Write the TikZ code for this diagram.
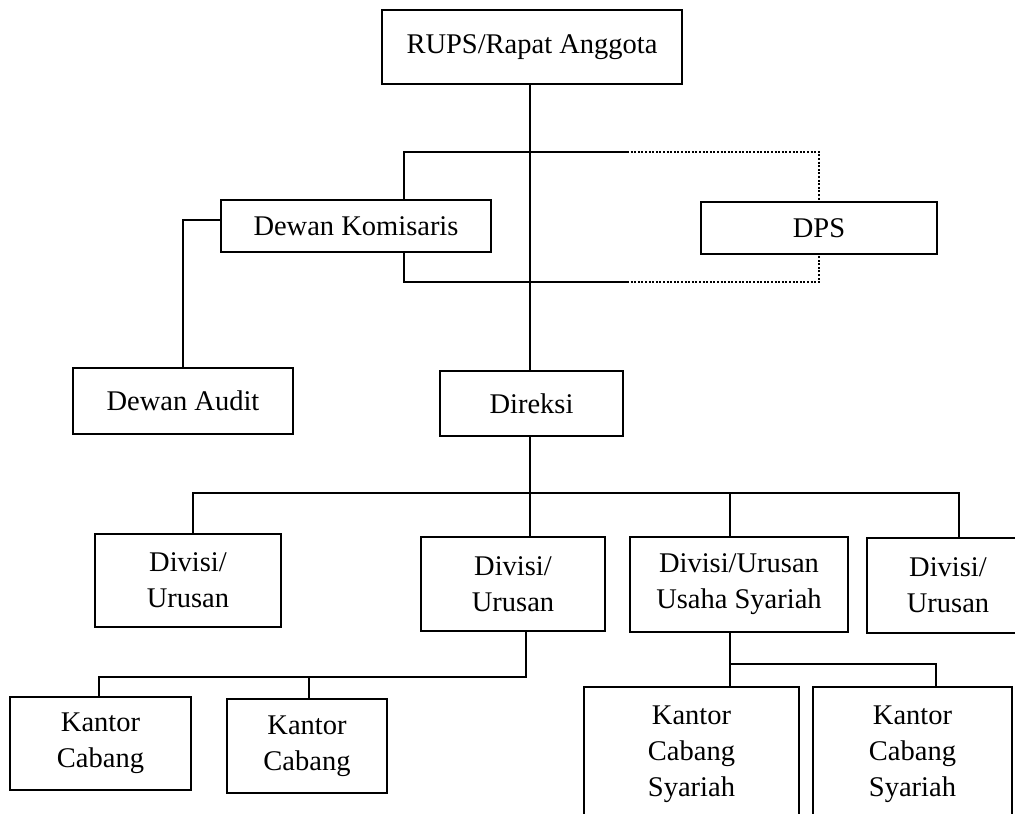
\documentclass[tikz,border=0pt]{standalone}
\usepackage{fontspec}
\setmainfont{Liberation Serif}
\begin{document}
\begin{tikzpicture}[x=1pt,y=-1pt,
  orgbox/.style={draw, line width=1.8pt, inner sep=0pt, outer sep=0pt, align=center,
    font=\fontsize{28.5}{36}\selectfont},
  conn/.style={line width=1.8pt},
  dotconn/.style={line width=2pt, dash pattern=on 2pt off 1.6pt}]
\useasboundingbox (0,0) rectangle (1015,814);
\fill[white] (0,0) rectangle (1015,814);
\clip (0,0) rectangle (1015,814);

\node[orgbox, minimum width=300pt, minimum height=74pt] (rups) at (532,47) {RUPS/Rapat Anggota};
\node[orgbox, minimum width=270pt, minimum height=52pt] (dk) at (356,226) {Dewan Komisaris};
\node[orgbox, minimum width=236pt, minimum height=52pt] (dps) at (819,228) {DPS};
\node[orgbox, minimum width=220pt, minimum height=66pt] (audit) at (183,401) {Dewan Audit};
\node[orgbox, minimum width=183pt, minimum height=65pt] (direksi) at (531.5,403.5) {Direksi};
\node[orgbox, minimum width=186pt, minimum height=93pt] (div1) at (188,580.5) {Divisi/\\Urusan};
\node[orgbox, minimum width=184pt, minimum height=94pt] (div2) at (513,584) {Divisi/\\Urusan};
\node[orgbox, minimum width=218pt, minimum height=95pt] (div3) at (739,584.5) {Divisi/Urusan\\Usaha Syariah};
\node[orgbox, minimum width=162pt, minimum height=95pt] (div4) at (948,585.5) {Divisi/\\Urusan};
\node[orgbox, minimum width=181pt, minimum height=93pt] (k1) at (100.5,743.5) {Kantor\\Cabang};
\node[orgbox, minimum width=160pt, minimum height=94pt] (k2) at (307,746) {Kantor\\Cabang};
\node[orgbox, minimum width=215pt, minimum height=134pt] (ks1) at (691.5,754) {Kantor\\Cabang\\Syariah};
\node[orgbox, minimum width=199pt, minimum height=134pt] (ks2) at (912.5,754) {Kantor\\Cabang\\Syariah};

% trunk
\coordinate (tk) at (530,0);
\draw[conn] (rups.south -| tk) -- (direksi.north -| tk);
\draw[conn] (direksi.south -| tk) -- (div2.north -| tk);

% bracket around Dewan Komisaris / DPS
\coordinate (tl) at (404,152);
\coordinate (tm) at (627,152);
\coordinate (tr) at (819,152);
\coordinate (bl) at (404,282);
\coordinate (bm) at (627,282);
\coordinate (br) at (819,282);
\draw[conn] (dk.north -| tl) -- (tl) -- (tm);
\draw[dotconn] (tm) -- (tr) -- (dps.north -| tr);
\draw[conn] (dk.south -| bl) -- (bl) -- (bm);
\draw[dotconn] (bm) -- (br) -- (dps.south -| br);

% Dewan Komisaris to Dewan Audit
\coordinate (ka) at (183,220);
\draw[conn] (dk.west |- ka) -- (ka) -- (audit.north -| ka);

% Direksi to divisions
\coordinate (hl) at (193,493);
\coordinate (hr) at (959,493);
\coordinate (h3) at (730,493);
\draw[conn] (div1.north -| hl) -- (hl) -- (hr) -- (div4.north -| hr);
\draw[conn] (h3) -- (div3.north -| h3);

% Divisi 2 to Kantor Cabang
\coordinate (cr) at (526,677);
\coordinate (cl) at (99,677);
\coordinate (cm) at (309,677);
\draw[conn] (div2.south -| cr) -- (cr) -- (cl) -- (k1.north -| cl);
\draw[conn] (cm) -- (k2.north -| cm);

% Divisi Syariah to Kantor Cabang Syariah
\coordinate (s1) at (730,664);
\coordinate (s2) at (936,664);
\draw[conn] (div3.south -| s1) -- (s1) -- (s2) -- (ks2.north -| s2);
\draw[conn] (s1) -- (ks1.north -| s1);
\end{tikzpicture}
\end{document}
